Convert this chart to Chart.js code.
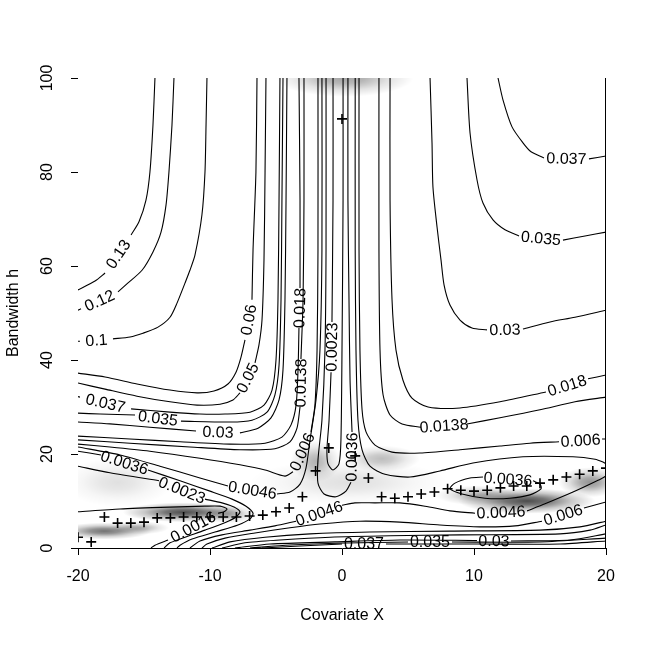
<!DOCTYPE html>
<html>
<head>
<meta charset="utf-8">
<script src="https://cdn.jsdelivr.net/npm/chart.js@4.4.0/dist/chart.umd.min.js"></script>
<style>
html,body{margin:0;padding:0;background:#fff}
#wrap{width:645px;height:645px}
</style>
</head>
<body>
<div id="wrap"><canvas id="c" width="645" height="645"></canvas></div>
<script>
// ---------------- data ----------------
const xTicks = [-20, -10, 0, 10, 20];
const yTicks = [0, 20, 40, 60, 80, 100];

// optimal bandwidth (+ markers) at each covariate value
const covariateX = [-20,-19,-18,-17,-16,-15,-14,-13,-12,-11,-10,-9,-8,-7,-6,-5,-4,-3,-2,-1,0,1,2,3,4,5,6,7,8,9,10,11,12,13,14,15,16,17,18,19,20];
const optimalH   = [2.3,1.3,6.6,5.3,5.3,5.5,6.4,6.4,6.6,6.6,6.6,6.6,6.6,6.8,7.0,7.7,8.5,10.9,16.4,21.3,91.3,19.6,14.9,10.9,10.6,10.9,11.5,11.9,12.6,12.3,12.1,12.3,12.8,13.2,13.2,13.8,14.5,15.1,15.7,16.4,17.0];

// contour polylines [x, h]; null = break where the level label sits
const c013 = [[-14.17,100],[-14.32,90],[-14.55,80],[-14.85,74.0],[-15.38,69.4],[-15.98,66.6],null,[-17.95,58.5],[-18.71,56.8],[-20,54.9]];
const c012 = [[-12.73,100],[-12.88,90],[-13.11,80],[-13.33,73.0],[-13.71,67.2],[-14.32,63.0],[-15.15,59.1],[-16.21,56.4],[-16.97,54.5],null,[-19.77,50.9],[-20,50.6]];
const c010 = [[-10.23,100],[-10.30,90],[-10.38,80],[-10.61,70.9],[-11.14,62.3],[-11.52,59.1],[-11.89,56.4],[-12.50,52.1],[-13.03,49.1],[-13.94,47.0],[-15.08,45.7],[-16.06,44.9],[-17.35,44.5],null,[-19.85,44.0],[-20,44.0]];
const c006 = [[-6.44,100],[-6.52,80],[-6.74,63.4],[-6.82,52.8],null,[-7.35,44.3],[-7.65,40.6],[-8.03,37.4],[-8.64,34.9],[-9.70,33.4],[-10.98,33.0],[-13.03,33.6],[-15.53,34.9],[-17.95,36.4],[-20,37.2]];
const c005 = [[-5.76,100],[-5.83,80],[-5.91,61.3],[-6.06,48.5],[-6.29,43.2],[-6.59,39.4],null,[-7.73,33.0],[-8.26,31.5],[-9.24,30.6],[-10.98,30.4],[-13.03,31.1],[-15.53,32.3],[-17.95,33.8],[-20,35.1]];
const c0037L = [[-4.70,100],[-4.77,74.0],[-4.85,52.8],[-5.0,40.0],[-5.30,33.6],[-5.91,30.4],[-6.97,28.9],[-8.86,28.5],[-10.76,28.5],[-13.03,28.9],[-15.98,29.6],null,[-19.85,32.1],[-20,32.2]];
const c0035L = [[-4.47,100],[-4.55,74.0],[-4.62,52.8],[-4.77,38.9],[-5.08,32.6],[-5.68,28.9],[-6.82,27.2],[-8.48,26.8],[-12.20,27.0],null,[-15.68,28.3],[-18.33,28.5],[-20,28.7]];
const c003L = [[-4.17,100],[-4.24,74.0],[-4.32,52.8],[-4.47,37.9],[-4.77,31.5],[-5.38,27.7],[-6.36,25.5],[-7.73,24.5],null,[-11.06,24.9],[-14.55,25.7],[-17.58,26.4],[-20,26.8]];
const c0018L = [[-3.26,100],[-3.18,74.0],[-3.18,55.3],null,[-3.26,46.8],[-3.33,37.9],[-3.48,30.4],[-3.86,26.2],[-4.55,23.6],[-5.83,22.3],[-8.48,22.1],[-12.27,22.6],[-16.06,23.2],[-20,23.8]];
const c00138L = [[-2.88,100],[-2.88,74.0],[-2.95,52.8],[-3.11,40.2],null,[-3.18,30.0],[-3.41,25.5],[-3.94,22.6],[-5.08,21.1],[-7.73,20.9],[-11.52,21.5],[-16.06,22.3],[-20,23.0]];
const c0006L = [[-1.82,100],[-1.82,63.4],[-1.89,42.1],[-2.05,30.4],[-2.35,24.7],null,[-3.71,16.2],[-4.32,15.3],[-5.83,16.6],[-7.73,17.7],[-10.76,19.1],[-14.55,20.6],[-17.58,21.5],[-20,22.1]];
const c00046L = [[-1.52,100],[-1.52,63.4],[-1.67,42.1],[-1.97,31.5],[-2.42,23.0],[-2.73,17.0],[-3.18,13.6],[-3.94,11.9],[-4.92,11.5],null,[-8.64,13.2],[-10.76,14.9],[-13.79,17.4],[-16.82,19.8],[-20,21.5]];
const c00036L = [[-20,20.6],[-18.26,19.8],null,[-14.70,16.6],[-12.27,14.3],[-10.0,12.1],[-8.33,10.4],[-7.27,8.9],[-6.74,7.4],[-6.97,6.2],[-7.88,4.9],[-9.62,3.4],[-11.36,1.9],[-12.27,0.6],[-12.50,0]];
const c00023L = [[-20,17.4],[-17.58,16.0],[-13.86,14.3],null,[-10.38,10.4],[-9.09,9.6],[-8.18,8.7],[-7.73,7.7],[-8.03,6.6],[-8.79,5.5],[-10.38,3.8],[-11.89,2.3],[-13.03,1.1],[-13.48,0]];
const c00016L = [[-20,7.7],[-16.82,8.3],[-13.03,8.7],[-10.38,8.9],[-9.24,8.9],[-8.71,8.3],[-8.94,7.7],[-9.39,7.4],null,[-13.18,1.7],[-14.17,0.6],[-14.47,0]];
const c00023C = [[-0.68,100],[-0.68,74.0],[-0.76,48.1],null,[-0.83,37.4],[-0.98,27.2],[-1.14,20.9],[-1.06,17.9],[-0.68,16.6],[-0.23,17.9],[-0.08,23.0],[0,42.1],[0.08,74.0],[0.08,100]];
const c00036C = [[-1.21,100],[-1.21,63.4],[-1.29,42.1],[-1.52,27.2],[-1.82,18.7],[-1.82,13.8],[-1.36,11.5],[-0.45,10.9],[0.30,12.1],[0.68,14.0],null,[0.76,24.7],[0.61,35.7],[0.53,52.8],[0.45,74.0],[0.45,100]];
const c00046R = [[1.0,100],[1.0,63.4],[1.06,42.1],[1.21,27.2],[1.52,20.9],[2.12,17.4],[3.26,15.7],[5.15,15.1],[7.42,16.4],[9.92,18.1],[13.71,19.4],[17.50,19.4],[19.17,18.9],[19.77,18.3],[20,17.9]];
const c00036R = [[14.47,14.3],[15.0,13.6],[15.08,12.6],[14.24,11.3],[12.73,10.6],[10.83,10.6],[9.09,11.5],[8.18,12.6],[8.56,13.8],[9.70,14.9],[10.68,15.1],null,[14.47,14.3]];
const c00046B = [[20,15.3],[19.32,14.3],[17.50,11.9],[15.38,9.4],[14.02,7.9],null,[10.08,7.4],[8.18,7.9],[6.29,8.9],[4.39,9.6],[2.50,9.6],[0.98,9.6],[0,9.1],null,[-3.48,5.7],[-5.08,4.7],[-6.97,3.8],[-9.09,2.8],[-10.76,1.5],[-11.52,0]];
const c0006R = [[1.29,100],[1.29,63.4],[1.36,42.1],[1.52,29.4],[1.82,24.7],[2.50,21.9],[3.79,20.4],[5.91,20.2],[8.94,20.9],[11.97,21.7],[14.24,22.3],[16.44,22.6],null,[19.70,23.2],[20,23.2]];
const c0006B = [[20,9.8],[18.33,8.5],null,[15.15,5.7],[13.11,4.7],[10.45,4.5],[7.42,4.9],[4.39,5.5],[1.36,5.7],[-1.67,5.1],[-3.94,4.3],[-6.59,3.2],[-8.86,2.1],[-10.23,0.85],[-10.61,0]];
const c00138R = [[2.80,100],[2.80,63.4],[2.88,42.1],[3.11,32.6],[3.64,28.3],[4.55,26.4],[5.98,25.7],null,[9.47,26.4],[11.97,27.7],[15.0,29.4],[17.65,31.1],[20,32.1]];
const c0018R = [[3.64,100],[3.64,74.0],[3.79,52.8],[4.09,42.1],[4.62,35.7],[5.30,31.9],[6.52,30.0],[8.94,29.8],[11.97,31.1],[15.45,33.2],null,[18.64,36.0],[20,36.8]];
const c003R = [[6.67,100],[6.82,86.2],[6.89,76.8],[7.20,68.3],[7.50,61.3],[7.73,56.0],[8.18,51.7],[8.94,48.5],[9.85,46.8],[10.98,46.4],null,[13.71,46.6],[15.76,48.1],[17.65,49.1],[20,50.6]];
const c0035R = [[9.47,100],[9.70,88.3],[10.23,78.3],[10.68,73.4],[11.44,69.8],[12.35,67.7],[13.41,66.4],null,[16.74,65.5],[18.41,66.4],[20,67.2]];
const c0037R = [[11.82,100],[12.20,95.3],[12.88,89.6],[13.71,86.2],[14.32,84.3],[15.30,83.0],null,[18.71,82.8],[20,83.4]];
const c00138B = [[-9.85,0],[-8.48,1.3],[-5.83,2.3],[-2.42,3.0],[2.12,3.4],[8.18,3.6],[15.0,3.8],[18.03,4.5],[20,5.7]];
const c0018B = [[-9.09,0],[-7.35,1.1],[-4.70,1.7],[-0.91,2.3],[3.64,2.6],[8.94,2.8],[16.52,3.0],[18.79,3.8],[20,4.9]];
const c003B = [[-8.11,0],[-5.45,0.85],[-0.53,1.3],[4.39,1.7],[10.23,1.6],null,[12.80,1.5],[17.27,1.7],[20,3.0]];
const c0035B = [[-6.97,0],[-3.94,0.64],[0.23,1.06],[5.0,1.28],null,[8.33,1.28],[15.0,1.28],[20,2.1]];
const c0037B = [[-6.06,0],[-3.18,0.43],[0,0.85],null,[3.33,0.85],[10.45,0.85],[16.52,0.85],[20,1.5]];

const contourLevels = [
  ['0.13', c013], ['0.12', c012], ['0.1', c010], ['0.06', c006], ['0.05', c005],
  ['0.037', c0037L], ['0.035', c0035L], ['0.03', c003L], ['0.018', c0018L], ['0.0138', c00138L],
  ['0.006', c0006L], ['0.0046', c00046L], ['0.0036', c00036L], ['0.0023', c00023L], ['0.0016', c00016L],
  ['0.0023', c00023C], ['0.0036', c00036C], ['0.0046', c00046R], ['0.0036', c00036R], ['0.0046', c00046B],
  ['0.006', c0006R], ['0.006', c0006B], ['0.0138', c00138R], ['0.018', c0018R], ['0.03', c003R],
  ['0.035', c0035R], ['0.037', c0037R], ['0.0138', c00138B], ['0.018', c0018B], ['0.03', c003B],
  ['0.035', c0035B], ['0.037', c0037B]
];

// grey background field: low-value areas [x, h, spreadX, spreadH, darkness]
const shadeField = [
  [-12.0, 7.6, 4.6, 2.1, 0.70],
  [-8.6, 7.2, 2.2, 1.9, 0.30],
  [-18.0, 3.6, 3.6, 1.8, 0.55],
  [-15.3, 4.3, 2.2, 1.4, 0.30],
  [14.0, 10.0, 5.2, 2.7, 0.70],
  [10.3, 11.2, 3.2, 2.1, 0.30],
  [18.8, 14.0, 2.4, 3.2, 0.42],
  [-2.0, 18.5, 1.9, 4.4, 0.30],
  [3.0, 19.0, 2.9, 2.8, 0.26],
  [0.5, 14.0, 7.5, 4.8, 0.12],
  [0.2, 100.0, 5.2, 4.0, 0.36],
  [-17.0, 14.0, 4.2, 5.2, 0.12]
];

// ---------------- chart ----------------
const FONT = '"Liberation Sans", Arial, Helvetica, sans-serif';

const toPts = arr => arr.map(p => p === null ? {x: null, y: null} : {x: p[0], y: p[1]});

const datasets = contourLevels.map(([lev, pts]) => ({
  data: toPts(pts),
  levelText: lev,
  showLine: true,
  borderColor: '#000',
  borderWidth: 1.1,
  pointRadius: 0,
  pointHoverRadius: 0,
  spanGaps: false,
  tension: 0.25,
  fill: false
}));
datasets.push({
  data: covariateX.map((x, i) => ({x: x, y: optimalH[i]})),
  showLine: false,
  pointStyle: 'cross',
  pointRadius: 5,
  pointBorderWidth: 1.6,
  pointBorderColor: '#000',
  pointBackgroundColor: '#000',
  borderColor: '#000'
});

const shadePlugin = {
  id: 'shade',
  beforeDatasetsDraw(chart) {
    const {ctx, chartArea: a, scales: {x, y}} = chart;
    ctx.save();
    ctx.beginPath();
    ctx.rect(a.left, a.top, a.right - a.left, a.bottom - a.top);
    ctx.clip();
    for (const [cx, cy, sx, sy, al] of shadeField) {
      const px = x.getPixelForValue(cx), py = y.getPixelForValue(cy);
      const rx = Math.abs(x.getPixelForValue(cx + sx) - px);
      const ry = Math.abs(y.getPixelForValue(cy + sy) - py);
      ctx.save();
      ctx.translate(px, py);
      ctx.scale(rx, ry);
      const g = ctx.createRadialGradient(0, 0, 0, 0, 0, 1);
      g.addColorStop(0, 'rgba(0,0,0,' + al + ')');
      g.addColorStop(0.3, 'rgba(0,0,0,' + (al * 0.78) + ')');
      g.addColorStop(0.65, 'rgba(0,0,0,' + (al * 0.3) + ')');
      g.addColorStop(1, 'rgba(0,0,0,0)');
      ctx.fillStyle = g;
      ctx.fillRect(-1, -1, 2, 2);
      ctx.restore();
    }
    ctx.restore();
  }
};

const labelPlugin = {
  id: 'clabels',
  afterDatasetsDraw(chart) {
    const {ctx, chartArea: a, scales: {x, y}} = chart;
    ctx.save();
    ctx.beginPath();
    ctx.rect(a.left, a.top, a.right - a.left, a.bottom - a.top);
    ctx.clip();
    ctx.font = '16px ' + FONT;
    ctx.fillStyle = '#000';
    ctx.textAlign = 'center';
    ctx.textBaseline = 'middle';
    chart.data.datasets.forEach(ds => {
      if (!ds.levelText) return;
      const d = ds.data;
      for (let i = 1; i < d.length - 1; i++) {
        if (d[i].x === null && d[i - 1].x !== null && d[i + 1].x !== null) {
          const x1 = x.getPixelForValue(d[i - 1].x), y1 = y.getPixelForValue(d[i - 1].y);
          const x2 = x.getPixelForValue(d[i + 1].x), y2 = y.getPixelForValue(d[i + 1].y);
          let ang = Math.atan2(y2 - y1, x2 - x1);
          if (ang > Math.PI / 2 + 1e-6) ang -= Math.PI;
          else if (ang < -Math.PI / 2 - 1e-6) ang += Math.PI;
          ctx.save();
          ctx.translate((x1 + x2) / 2, (y1 + y2) / 2);
          ctx.rotate(ang);
          ctx.fillText(ds.levelText, 0, 1);
          ctx.restore();
        }
      }
    });
    ctx.restore();
    // right frame line
    ctx.save();
    ctx.strokeStyle = '#000';
    ctx.lineWidth = 1;
    ctx.beginPath();
    ctx.moveTo(Math.round(a.right) - 0.5, a.top);
    ctx.lineTo(Math.round(a.right) - 0.5, a.bottom);
    ctx.stroke();
    ctx.restore();
  }
};

new Chart(document.getElementById('c'), {
  type: 'scatter',
  data: {datasets},
  options: {
    responsive: false,
    animation: false,
    events: [],
    layout: {padding: {left: 0, right: 39, top: 78, bottom: 0}},
    plugins: {legend: {display: false}, tooltip: {enabled: false}, title: {display: false}},
    scales: {
      x: {
        type: 'linear', position: 'bottom', min: -20, max: 20,
        afterBuildTicks: s => { s.ticks = xTicks.map(v => ({value: v})); },
        ticks: {color: '#000', font: {family: FONT, size: 16}, padding: 12, maxRotation: 0, autoSkip: false},
        grid: {display: true, drawOnChartArea: false, drawTicks: true, tickLength: 7, color: '#000', lineWidth: 1},
        border: {display: true, color: '#000', width: 1},
        title: {display: true, text: 'Covariate X', color: '#000', font: {family: FONT, size: 16}, padding: {top: 0, bottom: 20}},
        afterFit: s => { s.height = 97; }
      },
      y: {
        type: 'linear', position: 'left', min: 0, max: 100,
        afterBuildTicks: s => { s.ticks = yTicks.map(v => ({value: v})); },
        ticks: {color: '#000', font: {family: FONT, size: 16}, padding: 10, minRotation: 90, maxRotation: 90, crossAlign: 'center', autoSkip: false},
        grid: {display: true, drawOnChartArea: false, drawTicks: true, tickLength: 7, color: '#000', lineWidth: 1},
        border: {display: false},
        title: {display: true, text: 'Bandwidth h', color: '#000', font: {family: FONT, size: 16}, padding: {top: 4, bottom: 0}},
        afterFit: s => { s.width = 78; }
      }
    }
  },
  plugins: [shadePlugin, labelPlugin]
});
</script>
</body>
</html>
